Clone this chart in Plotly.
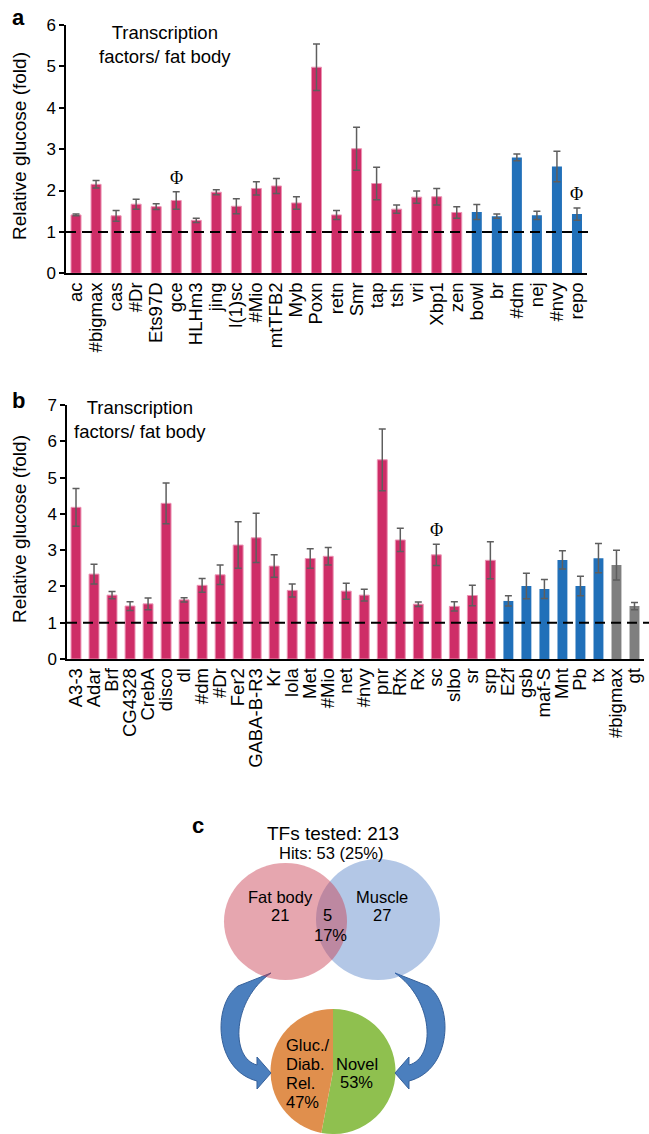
import plotly.graph_objects as go

W, H = 649, 1134
FONT = "Arial, Liberation Sans, sans-serif"

# ---------------- Data: panel a ----------------
a_fat_cats = ["ac", "#bigmax", "cas", "#Dr", "Ets97D", "gce", "HLHm3", "jing", "l(1)sc", "#Mio",
              "mtTFB2", "Myb", "Poxn", "retn", "Smr", "tap", "tsh", "vri", "Xbp1", "zen"]
a_fat_vals = [1.41, 2.15, 1.39, 1.67, 1.61, 1.76, 1.28, 1.96, 1.62, 2.05,
              2.11, 1.70, 4.98, 1.41, 3.01, 2.17, 1.55, 1.84, 1.85, 1.47]
a_fat_err = [0.02, 0.09, 0.13, 0.12, 0.07, 0.21, 0.05, 0.06, 0.18, 0.16,
             0.18, 0.15, 0.56, 0.11, 0.52, 0.39, 0.10, 0.15, 0.20, 0.14]
a_mus_cats = ["bowl", "br", "#dm", "nej", "#nvy", "repo"]
a_mus_vals = [1.48, 1.38, 2.80, 1.40, 2.58, 1.43]
a_mus_err = [0.18, 0.05, 0.08, 0.10, 0.37, 0.15]
a_phi = ["gce", "repo"]

# ---------------- Data: panel b ----------------
b_fat_cats = ["A3-3", "Adar", "Brf", "CG4328", "CrebA", "disco", "dl", "#dm", "#Dr", "Fer2",
              "GABA-B-R3", "Kr", "lola", "Met", "#Mio", "net", "#nvy", "pnr", "Rfx", "Rx",
              "sc", "slbo", "sr", "srp"]
b_fat_vals = [4.18, 2.34, 1.76, 1.46, 1.52, 4.29, 1.63, 2.03, 2.32, 3.14,
              3.34, 2.56, 1.89, 2.77, 2.83, 1.87, 1.76, 5.49, 3.28, 1.51,
              2.87, 1.45, 1.75, 2.72]
b_fat_err = [0.52, 0.27, 0.10, 0.12, 0.16, 0.56, 0.06, 0.19, 0.27, 0.64,
             0.68, 0.31, 0.18, 0.27, 0.24, 0.22, 0.16, 0.85, 0.32, 0.06,
             0.29, 0.13, 0.28, 0.51]
b_mus_cats = ["E2f", "gsb", "maf-S", "Mnt", "Pb", "tx"]
b_mus_vals = [1.60, 2.01, 1.93, 2.73, 2.01, 2.78]
b_mus_err = [0.14, 0.35, 0.26, 0.25, 0.27, 0.40]
b_oth_cats = ["#bigmax", "gt"]
b_oth_vals = [2.59, 1.46]
b_oth_err = [0.41, 0.10]
b_phi = ["sc"]

# ---------------- Data: panel c ----------------
tfs_tested = 213
hits = 53
hits_pct = 25
venn_fat = 21
venn_muscle = 27
venn_both = 5
venn_both_pct = 17
pie_labels = ["Novel", "Gluc./Diab. Rel."]
pie_values = [53, 47]

PINK = "#CE2D67"
BLUE = "#2170B9"
GRAY = "#7F7F7F"
ERRC = "#5E5E5E"


def px(x):
    return x / W


def py(y):
    return 1 - y / H


fig = go.Figure()


def add_bars(cats, vals, errs, color, xa, ya, width, outline):
    fig.add_trace(go.Bar(
        x=cats, y=vals, xaxis=xa, yaxis=ya, width=width,
        marker=dict(color=color, line=dict(color=outline, width=1 if outline else 0)),
        error_y=dict(type="data", array=errs, color=ERRC, thickness=1.5, width=3.5),
        showlegend=False, hoverinfo="x+y",
    ))


add_bars(a_fat_cats, a_fat_vals, a_fat_err, PINK, "x", "y", 0.5, "#EC93B4")
add_bars(a_mus_cats, a_mus_vals, a_mus_err, BLUE, "x", "y", 0.5, None)
add_bars(b_fat_cats, b_fat_vals, b_fat_err, PINK, "x2", "y2", 0.55, "#EC93B4")
add_bars(b_mus_cats, b_mus_vals, b_mus_err, BLUE, "x2", "y2", 0.55, None)
add_bars(b_oth_cats, b_oth_vals, b_oth_err, GRAY, "x2", "y2", 0.55, None)

fig.add_trace(go.Pie(
    values=pie_values, labels=pie_labels, sort=False, direction="clockwise", rotation=0,
    marker=dict(colors=["#8FC04F", "#E08F4D"], line=dict(width=0)),
    textinfo="none", hoverinfo="label+percent", showlegend=False,
    domain=dict(x=[px(270.5), px(395.5)], y=[0, py(1009)]),
))

a_cats = a_fat_cats + a_mus_cats
b_cats = b_fat_cats + b_mus_cats + b_oth_cats

xcommon = dict(type="category", tickangle=-90, showline=True, linecolor="black", linewidth=1.5,
               ticks="", showgrid=False, zeroline=False, automargin=False,
               tickmode="linear", tick0=0, dtick=1,
               tickfont=dict(family=FONT, size=18.5, color="black"))
ycommon = dict(showline=True, linecolor="black", linewidth=1.5, ticks="outside", ticklen=5,
               tickcolor="black", tickwidth=1.5, dtick=1, showgrid=False, zeroline=False,
               automargin=False,
               tickfont=dict(family=FONT, size=17, color="black"))

fig.update_layout(
    width=W, height=H, margin=dict(l=0, r=0, t=0, b=0),
    paper_bgcolor="white", plot_bgcolor="white", barmode="overlay",
    font=dict(family=FONT, color="black"),
    xaxis=dict(domain=[px(66), px(587)], anchor="y", categoryorder="array", categoryarray=a_cats,
               range=[-0.5, len(a_cats) - 0.5], **xcommon),
    yaxis=dict(domain=[py(273.3), py(25)], anchor="x", range=[0, 6], **ycommon),
    xaxis2=dict(domain=[px(67), px(643.5)], anchor="y2", categoryorder="array", categoryarray=b_cats,
                range=[-0.5, len(b_cats) - 0.5], **xcommon),
    yaxis2=dict(domain=[py(659), py(405)], anchor="x2", range=[0, 7], **ycommon),
)

shapes = []
# baseline dashed lines at 1-fold
shapes.append(dict(type="line", xref="paper", yref="y", x0=px(66), x1=px(592), y0=1, y1=1,
                   line=dict(color="black", width=2, dash="10px,6px")))
shapes.append(dict(type="line", xref="paper", yref="y2", x0=px(67), x1=1.0, y0=1, y1=1,
                   line=dict(color="black", width=2, dash="10px,6px")))


def arrow_path(mirror=False):
    pts = [("M", [(238, 986)]),
           ("C", [(212, 1005), (214, 1070), (257, 1081)]),
           ("L", [(257, 1089)]),
           ("L", [(271, 1073)]),
           ("L", [(257, 1057)]),
           ("L", [(257, 1065)]),
           ("C", [(230, 1058), (232, 1000), (271, 973)])]
    s = ""
    for cmd, ps in pts:
        s += cmd + " " + " ".join(
            "%.5f,%.5f" % (px(666 - x if mirror else x), py(y)) for x, y in ps) + " "
    return s + "Z"


for m in (False, True):
    shapes.append(dict(type="path", xref="paper", yref="paper", path=arrow_path(m),
                       fillcolor="#4B7FBE", line=dict(color="#35609A", width=1)))

# Venn circles (blue under, pink on top)
shapes.append(dict(type="circle", xref="paper", yref="paper",
                   x0=px(316), x1=px(440), y0=py(980), y1=py(859),
                   fillcolor="rgba(60,110,190,0.39)", line=dict(width=0)))
shapes.append(dict(type="circle", xref="paper", yref="paper",
                   x0=px(224), x1=px(347), y0=py(980), y1=py(863),
                   fillcolor="rgba(200,60,80,0.46)", line=dict(width=0)))
fig.update_layout(shapes=shapes)

ann = []


def txt(x, y, text, size, bold=False, xanchor="center", family=FONT, angle=0):
    ann.append(dict(x=px(x), y=py(y), xref="paper", yref="paper", text=("<b>%s</b>" % text) if bold else text,
                    showarrow=False, xanchor=xanchor, yanchor="middle", textangle=angle,
                    font=dict(family=family, size=size, color="black")))


# panel labels
txt(18, 18, "a", 22, bold=True)
txt(18, 400, "b", 22, bold=True)
txt(198, 825, "c", 22, bold=True)

# y titles
txt(20, 146, "Relative glucose (fold)", 19, angle=-90)
txt(20, 529, "Relative glucose (fold)", 19, angle=-90)

# inner titles
txt(165, 44.5, "Transcription<br>factors/ fat body", 18.5)
txt(140, 419, "Transcription<br>factors/ fat body", 18.5)

# Phi markers on bars
allvals_a = dict(zip(a_cats, [v + e for v, e in zip(a_fat_vals + a_mus_vals, a_fat_err + a_mus_err)]))
allvals_b = dict(zip(b_cats, [v + e for v, e in zip(b_fat_vals + b_mus_vals + b_oth_vals,
                                                    b_fat_err + b_mus_err + b_oth_err)]))
for c in a_phi:
    ann.append(dict(x=c, y=allvals_a[c], xref="x", yref="y", text="Φ", showarrow=False,
                    yanchor="bottom", yshift=2, font=dict(family="Liberation Serif, DejaVu Serif, serif", size=18)))
for c in b_phi:
    ann.append(dict(x=c, y=allvals_b[c], xref="x2", yref="y2", text="Φ", showarrow=False,
                    yanchor="bottom", yshift=2, font=dict(family="Liberation Serif, DejaVu Serif, serif", size=18)))

# panel c texts
txt(333, 833, "TFs tested: %d" % tfs_tested, 19)
txt(331, 852.5, "Hits: %d (%d%%)" % (hits, hits_pct), 16.5)
txt(280, 896.5, "Fat body", 16.5)
txt(280, 915, str(venn_fat), 16.5)
txt(381.5, 896.5, "Muscle", 16.5)
txt(381.5, 915, str(venn_muscle), 16.5)
txt(327, 915, str(venn_both), 16.5)
txt(330.5, 935, "%d%%" % venn_both_pct, 16.5)
for i, line in enumerate(["Gluc./", "Diab.", "Rel.", "%d%%" % pie_values[1]]):
    txt(284, 1045 + i * 19, line, 16.5, xanchor="left")
txt(356.5, 1063.5, "Novel", 16.5)
txt(356.5, 1082, "%d%%" % pie_values[0], 16.5)

fig.update_layout(annotations=ann)
fig.write_html("out.html", config={"displayModeBar": False},
               post_script="document.body.style.margin='0';document.body.style.overflow='hidden';")
